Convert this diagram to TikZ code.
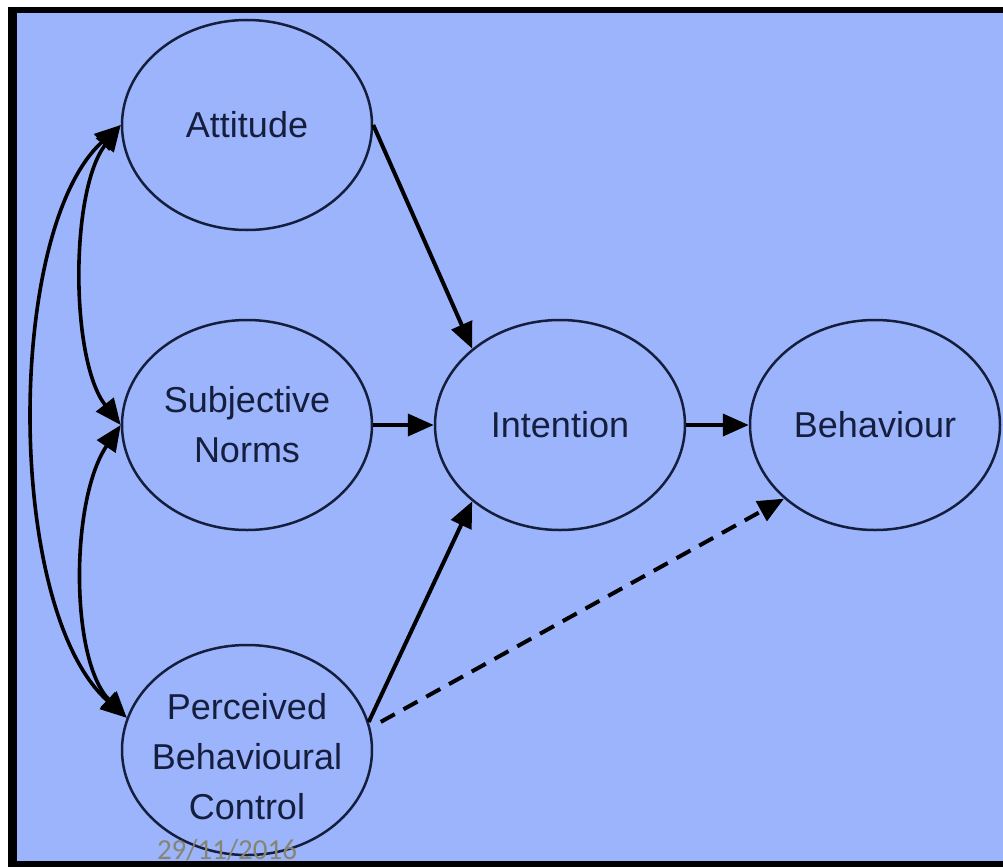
\documentclass[tikz,border=0pt]{standalone}
\usepackage{fontspec}
\setmainfont{Liberation Sans}
\newfontfamily\datefont{Carlito}
\usetikzlibrary{arrows.meta,shapes.geometric}
\definecolor{bgblue}{RGB}{155,180,252}
\definecolor{navy}{RGB}{22,30,62}
\definecolor{dategrey}{RGB}{135,133,112}
\tikzset{
  ell/.style={ellipse, draw=navy, line width=2.5pt, minimum width=250pt, minimum height=210pt,
    inner sep=0pt},
  txt/.style={align=center, text=navy, font=\fontsize{36}{50}\selectfont, inner sep=0pt},
  conn/.style={line width=4pt, black, -{Triangle[length=26pt,width=22pt]}},
  bconn/.style={line width=3.6pt, black, {Triangle[length=26pt,width=22pt]}-{Triangle[length=26pt,width=22pt]}},
  dconn/.style={conn, dash pattern=on 16pt off 10pt}
}
\begin{document}
\begin{tikzpicture}[x=1pt,y=-1pt]
\useasboundingbox (0,0) rectangle (1003,867);
\fill[white] (0,0) rectangle (1003,867);
\fill[black] (8,7) rectangle (1010,867);
\fill[bgblue] (17,13) rectangle (1003,861);
\node[ell] (att) at (247,125) {};
\node[ell] (sn) at (247,425) {};
\node[ell] (pbc) at (247,750) {};
\node[ell] (int) at (560,425) {};
\node[ell] (beh) at (875,425) {};
\node[txt] (attT) at (att.center) {Attitude};
\node[txt] (snT) at (sn.center) {Subjective\\Norms};
\node[txt] (pbcT) at ([yshift=-7pt]pbc.center) {Perceived\\Behavioural\\Control};
\node[txt] (intT) at (int.center) {Intention};
\node[txt] (behT) at (beh.center) {Behaviour};
\draw[conn] (att.east) -- (int.139);
\draw[conn] (sn.east) -- (int.west);
\draw[conn] (pbc.13) -- (int.221);
\draw[conn] (int.east) -- (beh.west);
\draw[dconn] ([xshift=12pt]pbc.13) -- (beh.219);
\draw[bconn] (att.west) .. controls (70,190) and (70,360) .. (sn.west);
\draw[bconn] (sn.west) .. controls (70,500) and (70,660) .. (pbc.165);
\draw[bconn] (att.west) .. controls (5,230) and (5,610) .. (pbc.165);
\node[font=\datefont\fontsize{29}{30}\selectfont, text=dategrey] (date) at (227,850) {29/11/2016};
\end{tikzpicture}
\end{document}
